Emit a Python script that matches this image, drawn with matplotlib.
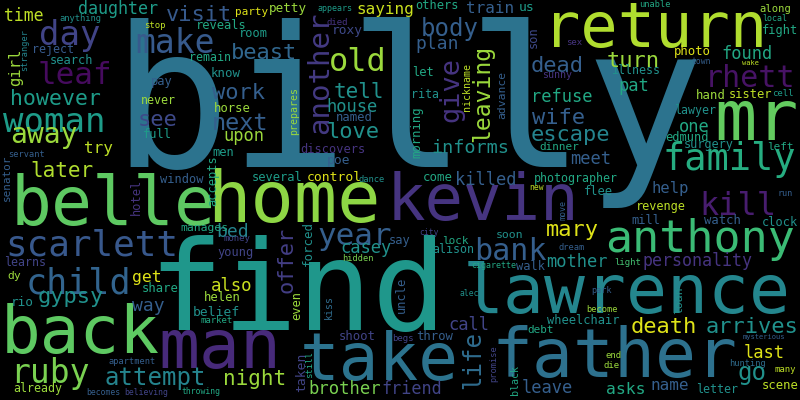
import matplotlib
matplotlib.use("Agg")
import matplotlib.pyplot as plt
from matplotlib import colormaps

# ---- data: words, relative weight (rendered em size in px) and colour tone ----
words = ["billy", "find", "return", "mr", "belle", "home", "kevin", "lawrence",
         "father", "take", "back", "man", "anthony", "family", "kill", "rhett",
         "scarlett", "child", "day", "make", "leaf", "woman", "old", "another",
         "give", "away", "ruby", "bank", "year", "body", "visit", "beast", "however",
         "work", "see", "next", "later", "tell", "love", "leaving", "turn", "dead",
         "wife", "escape", "refuse", "pat", "found", "meet", "gypsy", "attempt",
         "night", "mary", "death", "arrives", "go", "offer", "life", "informs",
         "killed", "saying", "train", "plan", "house", "time", "daughter", "girl",
         "upon", "try", "get", "also", "bed", "way", "mother", "personality",
         "last", "leave", "asks", "name", "friend", "brother", "call", "casey",
         "one", "help", "party", "anything", "stop", "reveals", "room", "reject",
         "search", "stranger", "remain", "know", "pay", "never", "horse", "full",
         "men", "servant", "senator", "window", "accepts", "hotel", "several",
         "petty", "appears", "others", "us", "died", "roxy", "son", "let",
         "nickname", "advance", "rita", "prepares", "named", "morning", "discovers",
         "poe", "control", "dance", "come", "unable", "along", "local", "fight",
         "sex", "photo", "town", "wake", "illness", "sunny", "hand", "sister",
         "cell", "lawyer", "edmund", "surgery", "left", "dinner", "photographer",
         "new", "flee", "run", "manages", "money", "young", "learns", "share", "dy",
         "helen", "rio", "belief", "market", "apartment", "already", "becomes",
         "believing", "throwing", "taken", "still", "forced", "hidden", "say",
         "city", "lock", "alison", "soon", "dream", "light", "cigarette", "walk",
         "move", "revenge", "mill", "watch", "clock", "uncle", "kiss", "even",
         "alec", "park", "loan", "become", "wheelchair", "debt", "throw", "shoot",
         "begs", "mysterious", "end", "die", "promise", "hunting", "black", "many",
         "letter", "scene"]

weights = [197, 124, 62, 70, 68, 72, 64, 68,
           68, 66, 66, 68, 45, 37, 32, 30,
           36, 35, 34, 33, 31, 34, 32, 29,
           27, 28, 33, 30, 31, 24, 22, 22, 21.5,
           22, 22, 23.5, 21, 21, 22, 23, 22, 22,
           22, 22, 17, 17, 17, 17, 22, 24,
           21, 22, 22, 22, 24, 22, 24, 18.5,
           17, 16, 16, 18, 17, 16.5, 16.6, 15.5,
           17, 16, 16.4, 17.3, 18, 18, 17, 16.6,
           17, 17, 16.4, 16, 16.8, 17.3, 17, 17,
           17, 15.5, 11, 8.8, 9, 12, 12, 11.6,
           12, 8.6, 11.6, 12.4, 12, 11.6, 12.3, 12,
           12, 8.6, 11, 12, 12, 12, 12,
           12.6, 8.4, 12, 13, 9, 12.9, 12, 12,
           10, 11.4, 11.6, 10, 12.3, 12.3, 12,
           13, 13, 8.8, 12.4, 8.7, 10.5, 8.4, 12,
           9, 12.3, 8, 7, 11.6, 10, 12.4, 12,
           9, 11.6, 12, 11.9, 11, 11, 11.6,
           8, 12, 8.5, 11.4, 9, 12, 11.6, 12.3, 11.4,
           12.3, 12.7, 13, 9, 8.6, 11.6, 8.1,
           8.2, 8.2, 13, 9, 12.5, 8.7, 12,
           8, 11, 11.6, 11.5, 8.8, 9, 8.4, 12,
           8.4, 11.9, 12, 12.3, 12, 12, 10, 12,
           8, 8.5, 11.5, 8.7, 12, 11, 12.3, 12.3,
           9, 7.2, 9, 9, 8.7, 8.7, 10, 9,
           11.6, 12.3]

tones = [0.38, 0.53, 0.88, 0.76, 0.75, 0.83, 0.15, 0.46,
         0.37, 0.38, 0.75, 0.12, 0.68, 0.62, 0.08, 0.05,
         0.27, 0.32, 0.2, 0.28, 0.03, 0.55, 0.85, 0.17,
         0.15, 0.85, 0.8, 0.3, 0.3, 0.3, 0.28, 0.33, 0.55,
         0.3, 0.22, 0.3, 0.88, 0.5, 0.5, 0.85, 0.85, 0.3,
         0.3, 0.45, 0.6, 0.6, 0.6, 0.3, 0.5, 0.45,
         0.85, 0.95, 0.95, 0.5, 0.5, 0.18, 0.35, 0.5,
         0.3, 0.92, 0.3, 0.3, 0.5, 0.9, 0.55, 0.85,
         0.85, 0.9, 0.95, 0.92, 0.45, 0.3, 0.5, 0.15,
         0.95, 0.3, 0.6, 0.3, 0.2, 0.8, 0.2, 0.5,
         0.6, 0.3, 0.95, 0.5, 0.9, 0.6, 0.55, 0.28,
         0.5, 0.45, 0.6, 0.5, 0.3, 0.85, 0.85, 0.55,
         0.55, 0.3, 0.3, 0.3, 0.6, 0.15, 0.55,
         0.85, 0.55, 0.6, 0.55, 0.15, 0.22, 0.22, 0.6,
         0.9, 0.3, 0.5, 0.85, 0.3, 0.6, 0.15,
         0.3, 0.95, 0.5, 0.6, 0.6, 0.85, 0.6, 0.6,
         0.15, 0.95, 0.3, 0.9, 0.5, 0.15, 0.85, 0.9,
         0.55, 0.5, 0.6, 0.5, 0.6, 0.6, 0.6,
         0.9, 0.5, 0.3, 0.6, 0.2, 0.2, 0.2, 0.6, 0.85,
         0.85, 0.5, 0.5, 0.6, 0.3, 0.85, 0.3,
         0.2, 0.6, 0.2, 0.6, 0.5, 0.8, 0.3,
         0.2, 0.6, 0.5, 0.5, 0.3, 0.7, 0.6, 0.3,
         0.3, 0.9, 0.3, 0.3, 0.5, 0.3, 0.35, 0.85,
         0.5, 0.3, 0.5, 0.85, 0.5, 0.6, 0.3, 0.2,
         0.2, 0.3, 0.85, 0.85, 0.2, 0.35, 0.6, 0.9,
         0.5, 0.9]

# ---- layout of the cloud (anchor x, anchor y, rotation) ----
# horizontal words: x = centre, y = baseline; vertical words: x = baseline, y = centre
layout = [(408, 167, 0), (297, 330, 0), (655, 47, 0), (756, 140, 0), (113, 225, 0),
          (294, 222, 0), (483, 220, 0), (627, 313, 0),
          (614, 377, 0), (379, 380, 0), (80, 353, 0), (220, 368, 0), (700, 252, 0),
          (729, 170, 0), (738, 215, 0), (750, 87, 0),
          (92, 255, 0), (78, 294, 0), (70, 45, 0), (175, 53, 0), (75, 84, 0),
          (54, 132, 0), (358, 71, 0), (328, 73, 90),
          (458, 90, 90), (44, 143, 0), (50, 383, 0), (510, 260, 0), (355, 245, 0),
          (450, 36, 0), (199, 21, 0), (264, 59, 0), (56, 105, 0),
          (238, 99, 0), (158, 126, 0), (240, 130, 0), (62, 177, 0), (359, 98, 0),
          (353, 138, 0), (489, 93, 90), (633, 67, 0), (557, 72, 0),
          (558, 124, 0), (570, 141, 0), (562, 102, 0), (634, 91, 0), (747, 59, 0),
          (591, 164, 0), (71, 303, 0), (155, 385, 0),
          (255, 385, 0), (572, 236, 0), (664, 333, 0), (752, 333, 0), (752, 380, 0),
          (292, 260, 90), (480, 360, 90), (470, 153, 0),
          (486, 185, 0), (385, 14, 0), (490, 13, 0), (437, 49, 0), (352, 112, 0),
          (23.5, 21, 0), (118, 14, 0), (20, 67, 90),
          (244, 141, 0), (98, 153, 0), (147, 282, 0), (232, 291, 0), (233, 237, 0),
          (148, 311, 0), (577, 267, 0), (698, 266, 0),
          (764, 358, 0), (547, 393, 0), (626, 394, 0), (670, 390, 0), (412, 394, 0),
          (345, 394, 0), (469, 330, 0), (366, 253, 0),
          (694, 132, 0), (670, 193, 0), (252, 15, 0), (80, 21, 0), (155, 28, 0),
          (221, 29, 0), (253, 37, 0), (53, 53, 0),
          (72, 64, 0), (27, 50, 90), (210, 61, 0), (226, 77, 0), (162, 85, 0),
          (158, 104, 0), (232, 112, 0), (157, 138, 0),
          (223, 156, 0), (27, 157, 0), (10, 178, 90), (182, 183, 0), (216, 181, 90),
          (140, 197, 90), (277, 181, 0),
          (288, 12, 0), (335, 11, 0), (437, 9, 0), (527, 11, 0), (337, 25, 0),
          (347, 34, 0), (537, 37, 90), (423, 76, 0),
          (470, 87, 90), (505, 95, 90), (425, 98, 0), (297, 111, 90), (354, 121, 0),
          (420, 132, 90), (333, 153, 0),
          (339, 164, 0), (334, 181, 0), (372, 182, 0), (438, 181, 0), (655, 7, 0),
          (775, 12, 0), (775, 21, 0), (780, 34, 0),
          (574, 45, 0), (692, 55, 0), (701, 64, 0), (750, 65, 0), (636, 74, 0),
          (557, 78, 0), (711, 99, 0), (751, 98, 0),
          (783, 96, 0), (695, 114, 0), (687, 141, 0), (709, 148, 0), (780, 150, 0),
          (559, 150, 0), (576, 182, 0),
          (537, 190, 0), (598, 195, 0), (785, 196, 0), (204, 231, 0), (237, 241, 0),
          (236, 256, 0), (25, 266, 0), (160, 292, 0), (14, 279, 0),
          (222, 301, 0), (22, 306, 0), (216, 316, 0), (217, 323, 0), (132, 364, 0),
          (38, 392, 0), (103, 395, 0),
          (146, 395, 0), (201, 394, 0), (305, 372, 90), (312, 365, 90), (312, 244, 90),
          (358, 261, 0), (400, 244, 0),
          (429, 235, 0), (455, 244, 0), (453, 253, 0), (510, 238, 0), (572, 250, 0),
          (628, 265, 0), (494, 268, 0), (531, 270, 0),
          (566, 210, 90), (661, 210, 0), (646, 224, 0), (722, 224, 0), (780, 226, 0),
          (405, 295, 90), (332, 307, 90), (300, 306, 90),
          (469, 296, 0), (601, 293, 0), (682, 300, 90), (602, 312, 0), (583, 324, 0),
          (541, 333, 0), (435, 340, 0), (357, 340, 0),
          (403, 341, 0), (764, 339, 0), (614, 358, 0), (612, 368, 0), (496, 364, 90),
          (747, 366, 0), (518, 380, 90), (785, 372, 0),
          (717, 393, 0), (780, 389, 0)]

cmap = colormaps["viridis"]

fig = plt.figure(figsize=(8, 4), dpi=100, facecolor="black")
ax = fig.add_axes([0, 0, 1, 1])
ax.set_facecolor("black")
ax.set_xlim(0, 800)
ax.set_ylim(400, 0)
ax.axis("off")

for w, s, t, (x, y, r) in zip(words, weights, tones, layout):
    ax.text(x, y, w, fontsize=s * 0.72, color=cmap(t), family="DejaVu Sans Mono",
            rotation=r, rotation_mode="anchor", ha="center", va="baseline")

fig.savefig("out.png", dpi=100, facecolor="black")
